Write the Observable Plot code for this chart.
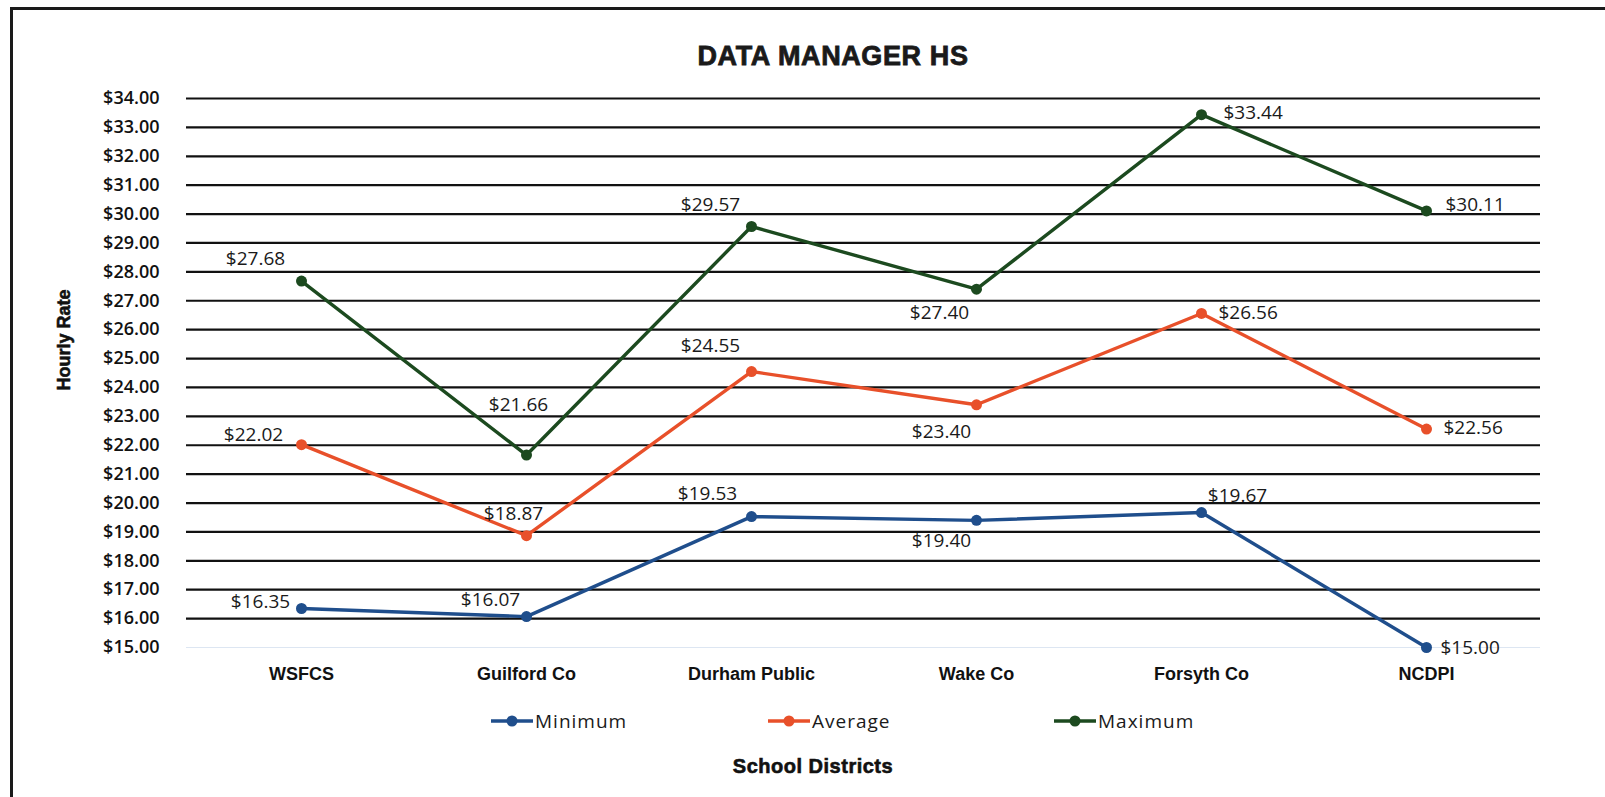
<!DOCTYPE html>
<html>
<head>
<meta charset="utf-8">
<script src="https://cdn.jsdelivr.net/npm/d3@7"></script>
<script src="https://cdn.jsdelivr.net/npm/@observablehq/plot@0.6"></script>
<style>
  html, body { margin: 0; padding: 0; background: #fff; }
  #wrap { position: relative; width: 1605px; height: 797px; overflow: hidden; background: #fff; }
  #chart { position: absolute; left: 0; top: 0; }
  .abs { position: absolute; white-space: nowrap; }
  #title { left: 833px; top: 56px; transform: translate(-50%, -50%); font: bold 27px "Liberation Sans", Arial, sans-serif; letter-spacing: 0.6px; color: #1a1a1a; -webkit-text-stroke: 0.8px #1a1a1a; }
  #ytitle { left: 64px; top: 340px; transform: translate(-50%, -50%) rotate(-90deg); font: bold 18px "Liberation Sans", Arial, sans-serif; color: #111; -webkit-text-stroke: 0.6px #111; }
  #xtitle { left: 813px; top: 766px; transform: translate(-50%, -50%); font: bold 20px "Liberation Sans", Arial, sans-serif; letter-spacing: 0.5px; color: #111; -webkit-text-stroke: 0.6px #111; }
  .leg { top: 721px; transform: translateY(-50%); display: flex; align-items: center; font: 19px "Open Sans", sans-serif; letter-spacing: 1px; color: #1a1a1a; }
  .leg svg { margin-right: 2px; }
  #bl { left: 10px; top: 7px; width: 3px; height: 790px; background: #1a1a1a; }
  #bt { left: 10px; top: 7px; width: 1595px; height: 3px; background: #1a1a1a; }
</style>
</head>
<body>
<div id="wrap">
  <div id="chart"></div>
  <div class="abs" id="bl"></div>
  <div class="abs" id="bt"></div>
  <div class="abs" id="title"></div>
  <div class="abs" id="ytitle"></div>
  <div class="abs" id="xtitle"></div>
</div>
<script>
// ---- data ----
const title = "DATA MANAGER HS";
const yTitle = "Hourly Rate";
const xTitle = "School Districts";
const districts = ["WSFCS", "Guilford Co", "Durham Public", "Wake Co", "Forsyth Co", "NCDPI"];
const seriesNames = ["Minimum", "Average", "Maximum"];
const minimum = [16.35, 16.07, 19.53, 19.40, 19.67, 15.00];
const average = [22.02, 18.87, 24.55, 23.40, 26.56, 22.56];
const maximum = [27.68, 21.66, 29.57, 27.40, 33.44, 30.11];
const yTicks = [15, 16, 17, 18, 19, 20, 21, 22, 23, 24, 25, 26, 27, 28, 29, 30, 31, 32, 33, 34];

// ---- styling ----
const colors = ["#1f4e8c", "#e8502a", "#1c4a1f"];
const seriesValues = [minimum, average, maximum];

const rows = [];
seriesNames.forEach((s, si) => {
  districts.forEach((d, di) => rows.push({ series: s, district: d, value: seriesValues[si][di] }));
});

// label placement (Excel-style manual placement), offsets in px from the point
const place = {
  "WSFCS|Maximum": [-46, -22, "middle"], "WSFCS|Average": [-48, -10, "middle"], "WSFCS|Minimum": [-41, -7, "middle"],
  "Guilford Co|Maximum": [-8, -50, "middle"], "Guilford Co|Average": [-13, -22, "middle"], "Guilford Co|Minimum": [-36, -17, "middle"],
  "Durham Public|Maximum": [-41, -22, "middle"], "Durham Public|Average": [-41, -26, "middle"], "Durham Public|Minimum": [-44, -23, "middle"],
  "Wake Co|Maximum": [-37, 24, "middle"], "Wake Co|Average": [-35, 27, "middle"], "Wake Co|Minimum": [-35, 21, "middle"],
  "Forsyth Co|Maximum": [22, -2, "start"], "Forsyth Co|Average": [17, -1, "start"], "Forsyth Co|Minimum": [36, -17, "middle"],
  "NCDPI|Maximum": [19, -6, "start"], "NCDPI|Average": [17, -1, "start"], "NCDPI|Minimum": [14, 0, "start"]
};

const labelMarks = rows.map(r => {
  const p = place[r.district + "|" + r.series];
  return Plot.text([r], {
    x: "district", y: "value", text: d => "$" + d.value.toFixed(2),
    dx: p[0], dy: p[1], textAnchor: p[2],
    fill: "#1a1a1a", fontSize: 19, fontFamily: "Open Sans",
    style: "letter-spacing:1.6px"
  });
});

const chart = Plot.plot({
  width: 1605,
  height: 797,
  marginLeft: 186,
  marginRight: 65,
  marginTop: 98,
  marginBottom: 150,
  style: { background: "transparent", fontFamily: "Open Sans", overflow: "visible" },
  x: { type: "point", domain: districts, padding: 0.5, label: null },
  y: { domain: [15, 34], label: null },
  color: { domain: seriesNames, range: colors },
  marks: [
    Plot.ruleY(yTicks.filter(t => t > 15), { stroke: "#111", strokeWidth: 2.2 }),
    Plot.ruleY([15], { stroke: "#dde6f2", strokeWidth: 1.2 }),
    Plot.axisY({
      ticks: yTicks, tickSize: 0, tickPadding: 27,
      tickFormat: d => "$" + d.toFixed(2),
      fontSize: 18, fontWeight: 600, fill: "#111", label: null,
      fontFamily: "Open Sans", style: "letter-spacing:0.6px"
    }),
    Plot.axisX({
      tickSize: 0, tickPadding: 20, fontSize: 18, fontWeight: "bold",
      fontFamily: "Liberation Sans", fill: "#111", label: null,
      stroke: "#111", strokeWidth: 0.7, style: "letter-spacing:0.7px"
    }),
    Plot.line(rows, { x: "district", y: "value", z: "series", stroke: "series", strokeWidth: 3.4 }),
    Plot.dot(rows, { x: "district", y: "value", fill: "series", r: 5.5 }),
    ...labelMarks
  ]
});
document.getElementById("chart").appendChild(chart);

document.getElementById("title").textContent = title;
document.getElementById("ytitle").textContent = yTitle;
document.getElementById("xtitle").textContent = xTitle;

// legend
const legendLeft = [491, 768, 1054];
const wrap = document.getElementById("wrap");
seriesNames.forEach((s, i) => {
  const div = document.createElement("div");
  div.className = "abs leg";
  div.style.left = legendLeft[i] + "px";
  div.innerHTML = `<svg width="42" height="14"><line x1="0" y1="7" x2="42" y2="7" stroke="${colors[i]}" stroke-width="3.5"/><circle cx="21" cy="7" r="5.5" fill="${colors[i]}"/></svg><span>${s}</span>`;
  wrap.appendChild(div);
});
</script>
</body>
</html>
